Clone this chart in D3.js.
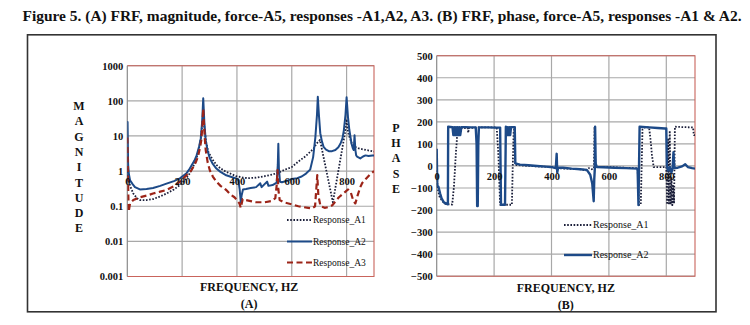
<!DOCTYPE html>
<html>
<head>
<meta charset="utf-8">
<script src="https://cdn.jsdelivr.net/npm/d3@7/dist/d3.min.js"></script>
<style>
  html, body { margin: 0; padding: 0; background: #fff; }
  svg { display: block; }
  text { font-family: "Liberation Serif", "DejaVu Serif", serif; fill: #111; }
</style>
</head>
<body>
<svg id="fig" width="750" height="325"></svg>
<script>
// ---- Data -------------------------------------------------------------
const titleText = "Figure 5. (A) FRF, magnitude, force-A5, responses -A1,A2, A3. (B) FRF, phase, force-A5, responses -A1 & A2.";

const freqTicks = [0, 200, 400, 600, 800];
const magTicks = [0.001, 0.01, 0.1, 1, 10, 100, 1000];
const phaseTicks = [-500, -400, -300, -200, -100, 0, 100, 200, 300, 400, 500];
const magTickLabels = ["0.001", "0.01", "0.1", "1", "10", "100", "1000"];

const magSeriesNames = ["Response_A1", "Response_A2", "Response_A3"];
const phaseSeriesNames = ["Response_A1", "Response_A2"];

// FRF magnitude, [frequency Hz, magnitude]
const magA1 = [[0,1.2],[4,0.55],[12,0.35],[22,0.23],[35,0.17],[46,0.15],[70,0.15],[94,0.16],[120,0.19],[143,0.23],[170,0.3],[192,0.4],[212,0.58],[228,0.86],[245,1.6],[258,3.2],[268,8],[273,20],[277,40],[281,18],[287,7],[295,3.6],[310,2.2],[325,1.5],[340,1.2],[361,0.95],[380,0.82],[397,0.72],[420,0.66],[440,0.63],[470,0.65],[502,0.72],[530,0.8],[551,0.9],[575,1.1],[600,1.3],[625,1.9],[649,2.6],[665,3.4],[680,4.4],[690,6],[703,7.7],[750,0.13],[794,12],[800,30],[806,12],[821,5.5],[833,4.8],[845,4.4],[870,4],[894,3.7],[900,3.6]];

const magA2 = [[0,0.6],[1,25],[3,1.5],[6,0.8],[10,0.55],[20,0.42],[28,0.35],[46,0.3],[70,0.31],[94,0.33],[120,0.38],[143,0.44],[170,0.52],[192,0.62],[215,0.85],[228,1.18],[245,2.0],[253,2.8],[262,5],[268,8.5],[273,25],[277,118],[281,25],[286,7.6],[293,3.8],[301,2.3],[312,1.6],[325,1.18],[340,0.95],[361,0.76],[380,0.68],[397,0.62],[405,0.55],[410,0.3],[414,0.13],[417,0.2],[422,0.3],[433,0.31],[450,0.33],[470,0.35],[485,0.45],[490,0.35],[500,0.42],[510,0.5],[515,0.38],[530,0.4],[545,0.47],[549,1.5],[551,6],[553,1.2],[557,0.5],[564,0.48],[580,0.52],[600,0.6],[620,0.63],[636,0.7],[652,0.85],[667,1.1],[678,2.5],[686,9],[692,40],[695,130],[699,40],[704,12],[710,7],[716,4.9],[725,4.1],[735,3.7],[747,3.7],[759,4],[770,4.8],[778,6.1],[785,8.5],[790,14.5],[796,40],[800,126],[805,35],[810,15],[814,9.5],[818,6],[823,4.4],[826,4],[829,10.5],[832,4],[835,2.8],[838,2.6],[850,2.3],[860,2.6],[869,2.8],[880,2.7],[894,2.8],[900,2.8]];

const magA3 = [[0,9],[2,1],[5,0.07],[10,0.12],[22,0.15],[46,0.18],[70,0.2],[94,0.23],[120,0.26],[143,0.29],[170,0.37],[192,0.5],[215,0.75],[234,1.06],[250,1.8],[258,2.6],[266,5],[270,7.6],[274,20],[277,60],[280,20],[283,8],[286,4],[293,1.8],[301,1.06],[312,0.7],[325,0.5],[340,0.38],[361,0.29],[375,0.22],[391,0.18],[400,0.15],[409,0.12],[414,0.09],[421,0.16],[433,0.15],[450,0.14],[470,0.13],[502,0.13],[525,0.14],[540,0.17],[545,0.4],[548,1.06],[551,0.3],[556,0.15],[570,0.13],[588,0.12],[605,0.11],[624,0.1],[640,0.095],[660,0.09],[673,0.086],[685,0.1],[690,0.35],[693,0.77],[697,0.2],[705,0.1],[720,0.09],[735,0.095],[748,0.107],[760,0.14],[772,0.18],[785,0.22],[796,0.26],[805,0.3],[815,0.25],[825,0.14],[832,0.12],[840,0.2],[850,0.35],[857,0.46],[870,0.6],[885,0.8],[900,1.0]];

// FRF phase, [frequency Hz, phase deg]
const phaseA1 = [[0,-20],[3,-100],[10,-140],[20,-160],[30,-172],[54,-175],[60,-95],[66,40],[71,133],[76,170],[100,172],[108,172],[110,150],[112,172],[150,175],[209,175],[215,50],[221,-176],[262,-176],[265,0],[268,150],[271,176],[273,5],[300,2],[350,-2],[400,-5],[418,-10],[450,-12],[500,-15],[520,-20],[530,-10],[540,-15],[548,-10],[550,178],[553,-5],[600,-5],[650,-8],[700,-10],[705,-177],[711,-176],[717,165],[725,175],[740,175],[745,120],[750,50],[756,-5],[800,-5],[803,-175],[806,120],[809,-170],[812,160],[815,-175],[818,-50],[821,-178],[824,-90],[827,-170],[830,178],[860,176],[893,175],[896,140],[900,140]];

const phaseA2 = [[0,78],[2,-90],[6,-94],[12,-125],[17,-147],[25,-165],[35,-172],[39,-174],[40,178],[55,176],[58,140],[61,176],[64,140],[67,176],[70,140],[73,176],[76,140],[79,176],[82,140],[86,176],[100,176],[120,175],[136,175],[139,100],[141,-182],[143,-182],[145,100],[147,175],[180,175],[200,174],[221,174],[224,-176],[238,-176],[241,178],[244,140],[247,176],[250,140],[253,176],[256,140],[259,176],[268,176],[272,176],[274,12],[290,6],[320,3],[350,0],[380,-3],[405,-6],[415,-10],[418,55],[420,-30],[423,-8],[440,-8],[470,-12],[500,-15],[523,-18],[535,-40],[542,-80],[547,-160],[549,-60],[551,-10],[552,178],[554,10],[558,-5],[580,-6],[620,-8],[660,-10],[700,-12],[703,-177],[707,178],[740,175],[770,172],[795,170],[800,170],[802,0],[806,-20],[812,-5],[818,-30],[822,-10],[825,62],[828,-10],[840,-8],[855,-2],[866,8],[875,-5],[890,-10],[900,-12]];

// ---- Styles -----------------------------------------------------------
const BLUE = "#1d4a88", RED = "#9c2418", DOT = "#1b1f3a";
const GRID = "#a8a8a8", FRAME = "#c9645c";

const svg = d3.select("#fig");

svg.append("text")
  .attr("x", 22.5).attr("y", 20.5)
  .attr("textLength", 719).attr("lengthAdjust", "spacingAndGlyphs")
  .style("font-size", "14.5px").style("font-weight", "bold")
  .text(titleText);

svg.append("rect")
  .attr("x", 27.5).attr("y", 34.8).attr("width", 688.5).attr("height", 277)
  .attr("fill", "none").attr("stroke", "#333").attr("stroke-width", 1.6);

function stackedLabel(word, x, y0, step) {
  svg.append("g").selectAll("text").data(word.split("")).join("text")
    .attr("x", x).attr("y", (d, i) => y0 + i * step)
    .attr("text-anchor", "middle")
    .style("font-size", "12px").style("font-weight", "bold")
    .text(d => d);
}

function drawPanel(opt) {
  const { x, y, clipId } = opt;
  const [x0, x1] = x.range();
  const [y0, y1] = y.range(); // y0 bottom, y1 top
  const g = svg.append("g");

  g.append("clipPath").attr("id", clipId)
    .append("rect").attr("x", x0).attr("y", y1).attr("width", x1 - x0).attr("height", y0 - y1);

  // grid
  g.append("g").selectAll("line").data(opt.yTicks).join("line")
    .attr("x1", x0).attr("x2", x1).attr("y1", d => y(d)).attr("y2", d => y(d))
    .attr("stroke", GRID).attr("stroke-width", 1.2);
  g.append("g").selectAll("line").data(freqTicks.filter(d => d > 0)).join("line")
    .attr("x1", d => x(d)).attr("x2", d => x(d)).attr("y1", y1).attr("y2", y0)
    .attr("stroke", GRID).attr("stroke-width", 1.2);

  // frame
  g.append("path")
    .attr("d", `M${x0},${y1}H${x1}V${y0}H${x0}`)
    .attr("fill", "none").attr("stroke", FRAME).attr("stroke-width", 1.1);
  g.append("line").attr("x1", x0).attr("x2", x0).attr("y1", y1).attr("y2", y0)
    .attr("stroke", "#8a8a8a").attr("stroke-width", 1.2);

  // series
  const line = d3.line().x(d => x(d[0])).y(d => y(d[1]));
  const lines = g.append("g").attr("clip-path", `url(#${clipId})`);
  opt.series.forEach(s => {
    lines.append("path").datum(s.data)
      .attr("d", line)
      .attr("fill", "none")
      .attr("stroke", s.color)
      .attr("stroke-width", s.width)
      .attr("stroke-dasharray", s.dash || null)
      .attr("stroke-linejoin", "round");
  });

  // y axis labels
  const yAxis = d3.axisLeft(y).tickValues(opt.yTicks).tickSize(0).tickPadding(4)
    .tickFormat(opt.yFormat);
  const ya = g.append("g").attr("transform", `translate(${x0},0)`).call(yAxis);
  ya.select(".domain").remove();
  ya.selectAll("text").style("font-size", "10.5px").style("font-weight", "bold")
    .style("font-family", "'Liberation Serif', serif").attr("fill", "#111");

  // x tick labels sit on the reference line inside the plot
  const xAxis = d3.axisBottom(x).tickValues(freqTicks).tickSize(0).tickPadding(opt.xPad);
  const xa = g.append("g").attr("transform", `translate(0,${y(opt.xAt)})`).call(xAxis);
  xa.select(".domain").remove();
  xa.selectAll("text").style("font-size", "10.5px").style("font-weight", "bold")
    .style("font-family", "'Liberation Serif', serif").attr("fill", "#111");

  // axis titles
  const cx = (x0 + x1) / 2 + opt.titleShift;
  g.append("text").attr("x", cx).attr("y", opt.titleY).attr("text-anchor", "middle")
    .style("font-size", "12px").style("font-weight", "bold").text("FREQUENCY, HZ");
  g.append("text").attr("x", cx).attr("y", opt.titleY + 17).attr("text-anchor", "middle")
    .style("font-size", "12px").style("font-weight", "bold").text(opt.panel);

  // legend
  const lg = g.append("g");
  opt.series.forEach((s, i) => {
    const ly = opt.legend.y[i];
    lg.append("line").attr("x1", opt.legend.x0).attr("x2", opt.legend.x1)
      .attr("y1", ly).attr("y2", ly)
      .attr("stroke", s.color).attr("stroke-width", s.width)
      .attr("stroke-dasharray", s.legendDash || s.dash || null);
    lg.append("text").attr("x", opt.legend.x1 + 1).attr("y", ly + 3.3)
      .style("font-size", opt.legend.size).text(s.name);
  });
}

// ---- (A) magnitude ----------------------------------------------------
const xMag = d3.scaleLinear().domain([0, 900]).range([127.3, 374]);
const yMag = d3.scaleLog().domain([0.001, 1000]).range([276.5, 65.7]);

drawPanel({
  x: xMag, y: yMag, clipId: "clipA",
  yTicks: magTicks, yFormat: (d, i) => magTickLabels[i],
  xAt: 1, xPad: 6.5,
  titleShift: -1.5, titleY: 291, panel: "(A)",
  series: [
    { name: magSeriesNames[0], data: magA1, color: DOT, width: 1.8, dash: "1.6,1.6" },
    { name: magSeriesNames[1], data: magA2, color: BLUE, width: 2 },
    { name: magSeriesNames[2], data: magA3, color: RED, width: 2.2, dash: "6,3.5" }
  ],
  legend: { x0: 287, x1: 312, y: [220, 241.5, 262.5], size: "9.5px" }
});
stackedLabel("MAGNITUDE", 79, 110, 15.3);

// ---- (B) phase --------------------------------------------------------
const xPh = d3.scaleLinear().domain([0, 900]).range([436.7, 695]);
const yPh = d3.scaleLinear().domain([-500, 500]).range([276.2, 55.7]);

drawPanel({
  x: xPh, y: yPh, clipId: "clipB",
  yTicks: phaseTicks, yFormat: d3.format("d"),
  xAt: 0, xPad: 6.5,
  titleShift: 0, titleY: 292, panel: "(B)",
  series: [
    { name: phaseSeriesNames[0], data: phaseA1, color: DOT, width: 1.8, dash: "1.6,1.6" },
    { name: phaseSeriesNames[1], data: phaseA2, color: BLUE, width: 2.4 }
  ],
  legend: { x0: 564, x1: 592, y: [225, 255], size: "10px" }
});
stackedLabel("PHASE", 396, 132, 15.2);
</script>
</body>
</html>
